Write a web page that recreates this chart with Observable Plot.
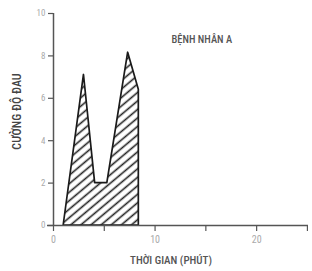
<!DOCTYPE html>
<html>
<head>
<meta charset="utf-8">
<script src="https://cdn.jsdelivr.net/npm/d3@7"></script>
<script src="https://cdn.jsdelivr.net/npm/@observablehq/plot@0.6"></script>
<style>
  html, body { margin: 0; padding: 0; background: #fff; }
  svg { display: block; }
</style>
</head>
<body>
<div id="chart"></div>
<script>
// Data
const time = [1.0, 3.0, 4.1, 5.3, 7.35, 8.4, 8.4];   // minutes
const pain = [0, 7.1, 2.0, 2.0, 8.15, 6.4, 0];      // pain intensity
const yTicks = [0, 2, 4, 6, 8, 10];
const xTicks = [0, 5, 10, 15, 20, 25];
const titleText = "BỆNH NHÂN A";
const yLabel = "CƯỜNG ĐỘ ĐAU";
const xLabel = "THỜI GIAN (PHÚT)";

const data = time.map((t, i) => ({t, v: pain[i]}));
const font = "'Roboto Condensed', 'Liberation Sans Narrow', 'Roboto', sans-serif";

const svg = Plot.plot({
  width: 312,
  height: 271,
  marginLeft: 53,
  marginRight: 0,
  marginTop: 13,
  marginBottom: 46,
  style: {fontFamily: font, background: "#fff"},
  x: {domain: [0, 25.5]},
  y: {domain: [0, 10]},
  marks: [
    Plot.areaY(data, {x: "t", y: "v", fill: "url(#hatch)", stroke: "#1a1a1a", strokeWidth: 1.7, strokeLinejoin: "round"}),
    Plot.ruleY([0], {stroke: "#555", strokeWidth: 1.5, insetLeft: -6, insetRight: 4}),
    Plot.ruleX([0], {stroke: "#555", strokeWidth: 1.5, y1: 0, y2: 10}),
    Plot.axisY({ticks: yTicks, tickSize: 5, tickPadding: 3, stroke: "#555", strokeWidth: 1.2, color: "#aaa", fontSize: 9, label: null}),
    Plot.axisX({ticks: xTicks, tickSize: 6, tickPadding: 4, stroke: "#555", strokeWidth: 1.2, color: "#aaa", fontSize: 10,
                tickFormat: d => d % 10 === 0 ? String(d) : "", label: null}),
    Plot.text([titleText], {frameAnchor: "top-left", dx: 118, dy: 22, textAnchor: "start", fontSize: 10.5, fontWeight: 500, fill: "#555"}),
    Plot.text([yLabel], {frameAnchor: "left", textAnchor: "middle", rotate: -90, dx: -36, dy: -8, fontSize: 12, fontWeight: 500, fill: "#444"}),
    Plot.text([xLabel], {frameAnchor: "bottom", textAnchor: "middle", dx: -12, dy: 38, fontSize: 11, fontWeight: 500, fill: "#555"})
  ]
});

d3.select(svg).insert("defs", ":first-child").html(`
  <pattern id="hatch" patternUnits="userSpaceOnUse" width="6.5" height="6.5" patternTransform="rotate(-40)">
    <rect width="6.5" height="6.5" fill="#fff"/>
    <line x1="0" y1="3.25" x2="6.5" y2="3.25" stroke="#222" stroke-width="1.6"/>
  </pattern>`);

document.getElementById("chart").appendChild(svg);
</script>
</body>
</html>
